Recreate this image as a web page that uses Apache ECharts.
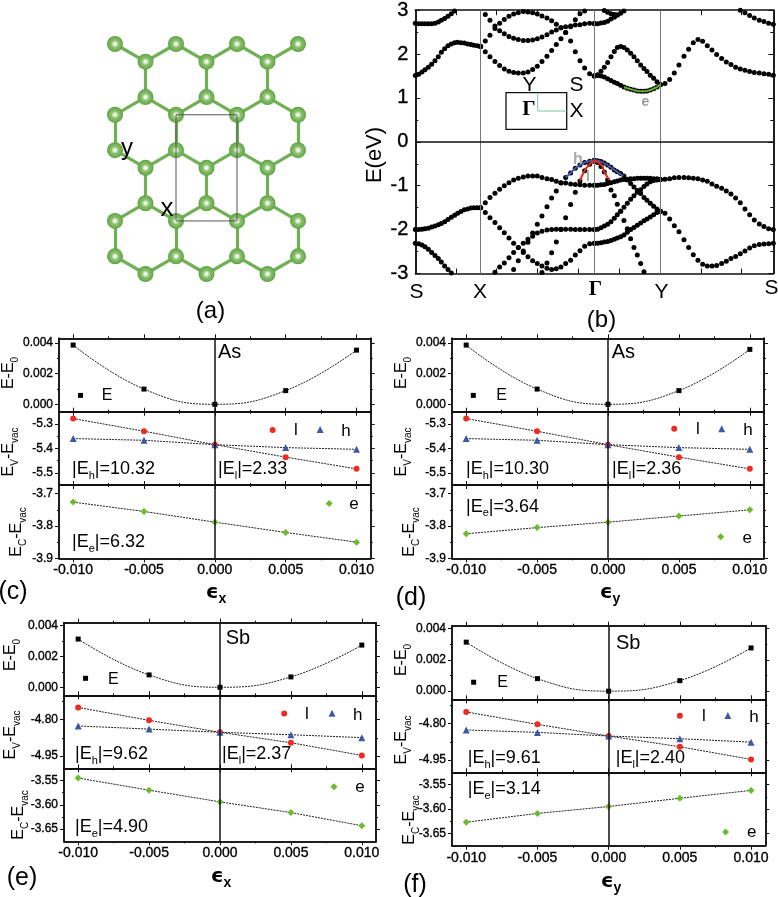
<!DOCTYPE html>
<html><head><meta charset="utf-8">
<style>html,body{margin:0;padding:0;background:#fff}#c{width:778px;height:897px}</style>
<script src="https://cdn.jsdelivr.net/npm/echarts@6/dist/echarts.min.js"></script>
</head><body><div id="c"></div>
<script>
// ---------- lattice (a): column index, row position in bond lengths
const atomRows=[0,0.5,1.5,2,3,3.5,4.5,5,6,6.5];
const cellCorners=[[2,2],[4,2],[4,5],[2,5],[2,2]];
// ---------- band structure (b): k along the path S-X-G-Y-S
const kTicks=[122,244,366,489,611,735,857,979];
const kX=196,kG=537,kY=735,kEnd=1074;
const kSX=[0,10,20,29,39,49,59,69,78,88,98,108,118,127,137,147,157,167,176,186,196];
const kXG=[196,210,224,239,253,267,281,295,309,324,338,352,366,380,395,409,423,437,451,466,480,494,508,523,537];
const kGY=[537,547,557,567,577,587,597,606,616,626,636,646,656,666,676,686,695,705,715,725,735];
const kYS=[735,749,763,777,791,806,820,834,848,862,876,890,904,919,933,947,961,975,989,1003,1017,1032,1046,1060,1074];
const n=null;
const sx1=[2.70,2.69,2.69,2.69,2.69,2.69,2.70,2.73,2.77,2.81,2.86,2.92,2.98];
const sx2=[1.51,1.54,1.59,1.64,1.70,1.77,1.85,1.94,2.04,2.12,2.19,2.23,2.26,2.27,2.26,2.25,2.23,2.22,2.20,2.19,2.17];
const sx3=[-2.00,-2.00,-1.99,-1.98,-1.97,-1.94,-1.92,-1.89,-1.86,-1.82,-1.77,-1.72,-1.67,-1.63,-1.59,-1.55,-1.53,-1.51,-1.50,-1.50,-1.50];
const sx4=[-2.31,-2.32,-2.35,-2.39,-2.45,-2.52,-2.59,-2.66,-2.74,-2.83,-2.91,-2.99];
const xg1=[2.17,2.30,2.43,2.58,2.70,2.79,2.86,2.91,2.94,2.97,2.96,2.94,2.91,2.87,2.82,2.76,2.68,2.60,2.49,2.30,2.05,1.85,1.68,1.55,1.50];
const xg2=[2.17,2.05,1.94,1.83,1.74,1.66,1.61,1.58,1.57,1.57,1.59,1.65,1.72,1.83,1.95,2.08,2.22,2.35,2.49,2.62,2.78,2.92,2.98];
const xg3=[n,2.90,2.77,2.64,2.53,2.46,2.40,2.36,2.33,2.31,2.31,2.32,2.35,2.39,2.44,2.50,2.55,2.60,2.62,2.64,2.66,2.67,2.69,2.70,2.70];
const xg4=[-1.50,-1.39,-1.27,-1.17,-1.08,-1.00,-0.93,-0.87,-0.83,-0.80,-0.78,-0.78,-0.78,-0.81,-0.84,-0.86,-0.90,-0.93,-0.94,-0.96,-0.97,-0.98,-0.99,-0.99,-0.99];
const xg5=[-1.50,-1.61,-1.73,-1.84,-1.96,-2.07,-2.19,-2.31,-2.41,-2.52,-2.62,-2.71,-2.77,-2.83,-2.88,-2.91,-2.89,-2.85,-2.77,-2.70,-2.58,-2.48,-2.38,-2.32,-2.31];
const xg6=[n,n,n,-2.97,-2.85,-2.76,-2.64,-2.52,-2.41,-2.31,-2.22,-2.15,-2.08,-2.04,-2.01,-2.00,-1.99,-1.99,-1.99,-1.99,-2.00,-2.00,-2.00,-2.00,-2.00];
const xg7=[n,n,n,n,n,n,n,-2.91,-2.71,-2.49,-2.29,-2.08,-1.88,-1.69,-1.48,-1.28,-1.12,-0.94,-0.81,-0.71,-0.60,-0.53,-0.47,-0.44,-0.42];
const xg8=[n,n,n,n,n,n,n,n,n,n,n,n,n,-2.98,-2.76,-2.53,-2.28,-2.00,-1.73,-1.43,-1.15,-0.89,-0.66,-0.51,-0.44];
const gy1=[1.50,1.53,1.61,1.70,1.81,1.94,2.06,2.15,2.17,2.15,2.09,2.02,1.94,1.85,1.75,1.67,1.60,1.52,1.45,1.37,1.30];
const gy2=[1.50,1.51,1.50,1.48,1.44,1.40,1.36,1.33,1.29,1.25,1.22,1.20,1.18,1.16,1.15,1.15,1.16,1.18,1.21,1.25,1.30];
const gy3=[2.69,2.69,2.71,2.72,2.75,2.80,2.84,2.89,2.93,2.98];
const gy4=[n,n,3.02,2.99,2.95,2.92,2.90,2.89];
const gy5=[-0.99,-0.99,-0.98,-0.97,-0.95,-0.93,-0.91,-0.89,-0.87,-0.86,-0.85,-0.84,-0.84,-0.83,-0.83,-0.83,-0.83,-0.83,-0.84,-0.84,-0.86];
const gy6=[-2.00,-1.99,-1.96,-1.92,-1.88,-1.82,-1.74,-1.66,-1.58,-1.49,-1.40,-1.31,-1.23,-1.15,-1.09,-1.02,-0.96,-0.91,-0.88,-0.87,-0.86];
const gy7=[-2.31,-2.31,-2.30,-2.28,-2.27,-2.25,-2.22,-2.19,-2.16,-2.12,-2.06,-2.00,-1.95,-1.90,-1.85,-1.80,-1.76,-1.71,-1.66,-1.61,-1.58];
const gy8=[-0.42,-0.43,-0.45,-0.48,-0.53,-0.58,-0.64,-0.68,-0.72,-0.78,-0.87,-0.95,-1.03,-1.11,-1.18,-1.27,-1.33,-1.40,-1.47,-1.53,-1.58];
const gy9=[-0.44,-0.47,-0.56,-0.69,-0.87,-1.10,-1.23,-1.42,-1.58,-1.79,-1.98,-2.21,-2.41,-2.58,-2.77,-2.96];
const ys1=[1.30,1.33,1.42,1.57,1.75,1.95,2.11,2.26,2.33,2.29,2.19,2.09,1.99,1.90,1.82,1.76,1.70,1.66,1.63,1.60,1.58,1.57,1.55,1.54,1.52];
const ys2=[n,n,n,n,n,n,n,n,n,n,n,n,n,n,n,n,n,3.00,2.94,2.88,2.82,2.77,2.74,2.70,2.68];
const ys3=[-0.86,-0.85,-0.84,-0.82,-0.81,-0.81,-0.82,-0.83,-0.84,-0.87,-0.90,-0.96,-1.01,-1.06,-1.12,-1.19,-1.28,-1.39,-1.53,-1.66,-1.78,-1.87,-1.93,-1.98,-2.00];
const ys4=[-1.58,-1.63,-1.76,-1.91,-2.05,-2.23,-2.41,-2.57,-2.70,-2.79,-2.83,-2.83,-2.82,-2.77,-2.72,-2.66,-2.61,-2.55,-2.49,-2.42,-2.37,-2.34,-2.33,-2.32,-2.31];
const holeBlue=[[451,-0.81],[466,-0.71],[480,-0.60],[494,-0.53],[508,-0.47],[523,-0.44],[537,-0.42],[557,-0.45],[577,-0.53],[597,-0.64],[624,-0.78]];
const holeRed=[[494,-0.89],[508,-0.66],[523,-0.51],[537,-0.44],[557,-0.51],[567,-0.68],[582,-0.87]];
const elecGreen=[[626,1.25],[636,1.22],[646,1.20],[656,1.18],[666,1.16],[676,1.15],[686,1.15],[695,1.16],[705,1.18],[715,1.21],[725,1.25],[735,1.30]];
// ---------- strain panels (c-f)
const strain=[-0.01,-0.005,0,0.005,0.01];
const xMajor=[-0.01,-0.005,0,0.005,0.01], xMinor=[-0.0075,-0.0025,0.0025,0.0075];
const cE=[0.00385,0.00099,0,0.00089,0.00352], cL=[-5.278,-5.33,-5.385,-5.436,-5.484], cH=[-5.36,-5.367,-5.385,-5.397,-5.404], cEl=[-3.726,-3.755,-3.788,-3.82,-3.85];
const dE=[0.00385,0.00099,0,0.00089,0.00357], dL=[-5.278,-5.33,-5.385,-5.436,-5.484], dH=[-5.36,-5.367,-5.385,-5.397,-5.404], dEl=[-3.824,-3.805,-3.788,-3.769,-3.75];
const eE=[0.00312,0.0008,0,0.00067,0.00273], eL=[-4.75,-4.803,-4.852,-4.895,-4.947], eH=[-4.826,-4.839,-4.852,-4.862,-4.874], eEl=[-3.545,-3.57,-3.594,-3.616,-3.643];
const fE=[0.00313,0.0008,0,0.00067,0.00276], fL=[-4.752,-4.803,-4.851,-4.895,-4.947], fH=[-4.826,-4.836,-4.851,-4.862,-4.876], fEl=[-3.627,-3.609,-3.595,-3.578,-3.562];

const FONT='"Liberation Sans",Arial,sans-serif';
const grid=[],xAxis=[],yAxis=[],series=[],graphic=[];
const BK='#111';

function axis(g,dim,pos,min,max,vals,len,label,lw,inside,fmt,fs,margin){
  const a={type:'value',gridIndex:g,position:pos,min,max,splitLine:{show:false},
    axisLine:{show:true,onZero:false,lineStyle:{color:BK,width:lw}},
    axisTick:{show:true,inside:!!inside,length:len,customValues:vals,lineStyle:{color:BK,width:1}},
    axisLabel:{show:!!label,color:'#000',fontFamily:FONT,fontSize:fs||12,margin:margin||6,
      textBorderColor:'#000',textBorderWidth:0.35,
      hideOverlap:false,showMinLabel:true,showMaxLabel:true,customValues:vals,formatter:fmt}};
  const arr=dim==='x'?xAxis:yAxis; arr.push(a); return arr.length-1;
}
function gridAxes(left,top,w,h,x,y,opt){
  const g=grid.length; opt=opt||{};
  const lw=opt.lw||1.5,ml=opt.ml||4,nl=opt.nl||2,ins=opt.inside;
  grid.push({left,top,width:w,height:h,containLabel:false,show:false});
  const xi=axis(g,'x','bottom',x.min,x.max,x.major,ml,x.labels,lw,ins,x.fmt,x.fs,x.margin);
  if(x.minor)axis(g,'x','bottom',x.min,x.max,x.minor,nl,false,lw,ins);
  axis(g,'x','top',x.min,x.max,x.major,ml,false,lw,ins);
  if(x.minor)axis(g,'x','top',x.min,x.max,x.minor,nl,false,lw,ins);
  const yi=axis(g,'y','left',y.min,y.max,y.major,ml,true,lw,ins,y.fmt,y.fs,y.margin);
  if(y.minor)axis(g,'y','left',y.min,y.max,y.minor,nl,false,lw,ins);
  axis(g,'y','right',y.min,y.max,y.major,ml,false,lw,ins);
  if(y.minor)axis(g,'y','right',y.min,y.max,y.minor,nl,false,lw,ins);
  return {xi,yi};
}
function txt(x,y,text,o){
  o=o||{};
  const st={text,fontFamily:o.font||FONT,fontSize:o.size||16,fill:o.color||'#000',fontWeight:o.weight||'normal',
    align:o.align||'center',verticalAlign:o.va||'middle'};
  if(o.rich)st.rich=o.rich;
  graphic.push({type:'text',x,y,rotation:o.rot||0,z:50,silent:true,style:st});
}
function richSub(size,sub,lh){
  return {n:{fontFamily:FONT,fontSize:size,lineHeight:lh,verticalAlign:'middle',fill:'#000',color:'#000'},
          s:{fontFamily:FONT,fontSize:sub,lineHeight:lh,verticalAlign:'bottom',fill:'#000',color:'#000'}};
}

// ---------- (a) lattice
(function(){
  const g=grid.length;
  grid.push({left:115,top:44,width:183,height:230,show:false});
  xAxis.push({type:'value',gridIndex:g,min:0,max:6,show:false});
  yAxis.push({type:'value',gridIndex:g,min:0,max:6.5,inverse:true,show:false});
  const nodes=[],idx={};
  atomRows.forEach((r,ri)=>{
    const odd=(ri===1||ri===2||ri===5||ri===6||ri===9);
    for(let c=odd?1:0;c<=6;c+=2){idx[c+'_'+ri]=nodes.length;nodes.push({value:[c,r]});}
  });
  const links=[];
  for(let ri=0;ri<atomRows.length-1;ri++){
    const zig=(ri%2===0);
    for(let c=0;c<=6;c++){
      const a=idx[c+'_'+ri]; if(a===undefined)continue;
      if(zig){[c-1,c+1].forEach(cc=>{const b=idx[cc+'_'+(ri+1)];if(b!==undefined)links.push({source:a,target:b});});}
      else{const b=idx[c+'_'+(ri+1)];if(b!==undefined)links.push({source:a,target:b});}
    }
  }
  series.push({type:'graph',coordinateSystem:'cartesian2d',xAxisIndex:xAxis.length-1,yAxisIndex:yAxis.length-1,
    layout:'none',silent:true,symbol:'circle',symbolSize:16,data:nodes,links,label:{show:false},
    itemStyle:{color:{type:'radial',x:0.5,y:0.5,r:0.5,colorStops:[{offset:0,color:'#ffffff'},{offset:0.15,color:'#eef6e8'},{offset:0.45,color:'#8cc070'},{offset:0.8,color:'#6fb052'},{offset:1,color:'#5f9e45'}]}},
    lineStyle:{color:'#70b054',width:3.2,opacity:1,curveness:0},z:2});
  series.push({type:'line',xAxisIndex:xAxis.length-1,yAxisIndex:yAxis.length-1,data:cellCorners,symbol:'none',clip:false,silent:true,
    lineStyle:{color:'#555',width:1},z:5});
  txt(127,148,'y',{size:24});
  txt(167,209,'x',{size:26});
  txt(210.5,311,'(a)',{size:24});
})();

// ---------- (b) band structure
(function(){
  const {xi,yi}=gridAxes(415.3,7,358,266.5,
    {min:0,max:kEnd,major:kTicks},
    {min:-3,max:3,major:[-3,-2,-1,0,1,2,3],minor:[-2.5,-1.5,-0.5,0.5,1.5,2.5],fmt:v=>String(Math.round(v)),fs:20,margin:7},
    {inside:true,ml:5,nl:3,lw:1.5});
  const sets=[[kSX,[sx1,sx2,sx3,sx4]],[kXG,[xg1,xg2,xg3,xg4,xg5,xg6,xg7,xg8]],[kGY,[gy1,gy2,gy3,gy4,gy5,gy6,gy7,gy8,gy9]],[kYS,[ys1,ys2,ys3,ys4]]];
  const pts=[];
  sets.forEach(([k,bands])=>bands.forEach(b=>b.forEach((e,i)=>{if(e!==null)pts.push([k[i],e]);})));
  series.push({type:'scatter',xAxisIndex:xi,yAxisIndex:yi,data:pts,symbol:'circle',symbolSize:5,silent:true,itemStyle:{color:'#000',opacity:1},z:4,
    markLine:{silent:true,symbol:'none',label:{show:false},animation:false,data:[{xAxis:kX},{xAxis:kG},{xAxis:kY}],lineStyle:{color:'#777',width:1,type:'solid'}}});
  series.push({type:'line',xAxisIndex:xi,yAxisIndex:yi,data:[],silent:true,z:3,
    markLine:{silent:true,symbol:'none',label:{show:false},animation:false,data:[{yAxis:0}],lineStyle:{color:'#111',width:1.5,type:'solid'}}});
  const over=(d,c)=>series.push({type:'line',xAxisIndex:xi,yAxisIndex:yi,data:d,smooth:true,symbol:'none',silent:true,lineStyle:{color:c,width:2},z:6});
  over(holeBlue,'#3f5aa8'); over(holeRed,'#e8281c'); over(elecGreen,'#63ad2c');
  // text
  txt(375,155,'E(eV)',{size:22,rot:Math.PI/2});
  const sy=292;
  txt(416.5,sy,'S',{size:21}); txt(480,sy,'X',{size:21});
  txt(595.5,290,'Γ',{size:21,font:'"Liberation Serif",serif',weight:'bold'});
  txt(661.5,sy,'Y',{size:21}); txt(771.5,288,'S',{size:21});
  txt(601.5,320,'(b)',{size:24});
  // inset
  graphic.push({type:'rect',z:20,silent:true,shape:{x:506,y:92.7,width:60.7,height:36.6},style:{fill:'rgba(255,255,255,0)',stroke:'#111',lineWidth:1.3}});
  graphic.push({type:'polyline',z:21,silent:true,shape:{points:[[537.7,92.7],[537.7,111],[566.7,111]]},style:{fill:'none',stroke:'#7cc8a0',lineWidth:1}});
  txt(529.5,85.5,'Y',{size:21}); txt(576.5,85,'S',{size:21}); txt(576.5,111,'X',{size:21});
  txt(529,110,'Γ',{size:21,font:'"Liberation Serif",serif',weight:'bold'});
  txt(645.5,102,'e',{size:14,color:'#999',weight:'bold'});
  txt(578,160,'h',{size:16,color:'#aaa',weight:'bold'});
  txt(588,177,'l',{size:14,color:'#aaa',weight:'bold'});
})();

// ---------- (c-f) strain panels
function panel(p){
  const w=p.right-p.left;
  const X=(labels)=>({min:-0.011,max:0.011,major:xMajor,minor:xMinor,labels,fmt:v=>v.toFixed(3),fs:14,margin:5});
  const topG=gridAxes(p.left,p.top,w,p.s1-p.top,X(false),{min:p.y1[0],max:p.y1[1],major:[0,0.002,0.004],minor:[0.001,0.003],fmt:v=>v.toFixed(3)});
  const midG=gridAxes(p.left,p.s1,w,p.s2-p.s1,X(false),{min:p.y2[0],max:p.y2[1],major:p.m2,minor:p.n2,fmt:v=>v.toFixed(p.dec)});
  const botG=gridAxes(p.left,p.s2,w,p.bottom-p.s2,X(true),{min:p.y3[0],max:p.y3[1],major:p.m3,minor:p.n3,fmt:v=>v.toFixed(p.dec)});
  const zero={silent:true,symbol:'none',label:{show:false},animation:false,data:[{xAxis:0}],lineStyle:{color:'#111',width:1.5,type:'solid'}};
  const ln=(g,vals,sym,size,color,smooth)=>series.push({type:'line',xAxisIndex:g.xi,yAxisIndex:g.yi,silent:true,
    data:strain.map((s,i)=>[s,vals[i]]),smooth:smooth?0.45:false,symbol:sym,symbolSize:size,showAllSymbol:true,
    itemStyle:{color},lineStyle:{color:'#222',width:1,type:[2,1]},z:4});
  const key=(g,pt,sym,size,color)=>series.push({type:'scatter',xAxisIndex:g.xi,yAxisIndex:g.yi,silent:true,data:[pt],symbol:sym,symbolSize:size,itemStyle:{color,opacity:1},z:4});
  series.push({type:'line',xAxisIndex:topG.xi,yAxisIndex:topG.yi,data:[],markLine:zero,silent:true});
  series.push({type:'line',xAxisIndex:midG.xi,yAxisIndex:midG.yi,data:[],markLine:zero,silent:true});
  series.push({type:'line',xAxisIndex:botG.xi,yAxisIndex:botG.yi,data:[],markLine:zero,silent:true});
  const RED='#ee2b20',BLUE='#3f58a6',GRN='#6bbb2d',SQ='#000';
  ln(topG,p.E,'rect',5,SQ,true); key(topG,p.kE,'rect',5,SQ);
  ln(midG,p.L,'circle',6,RED); ln(midG,p.H,'triangle',7,BLUE);
  key(midG,p.kL,'circle',6,RED); key(midG,p.kH,'triangle',7,BLUE);
  ln(botG,p.El,'diamond',7,GRN); key(botG,p.kEl,'diamond',7,GRN);
  const t=p.t;
  txt(t.name[0],t.name[1],p.name,{size:20,align:'left'});
  txt(t.E[0],t.E[1],'E',{size:16}); txt(t.l[0],t.l[1],'l',{size:17}); txt(t.h[0],t.h[1],'h',{size:17}); txt(t.e[0],t.e[1],'e',{size:17});
  const eq=(pos,sub,val)=>txt(pos[0],pos[1],`{n||E}{s|${sub}}{n||=${val}}`,{size:18,align:'left',rich:richSub(18,11,24)});
  eq(t.Eh,'h',p.vals[0]); eq(t.El,'l',p.vals[1]); eq(t.Ee,'e',p.vals[2]);
  const R=Math.PI/2;
  txt(t.a1[0],t.a1[1],'{n|E-E}{s|0}',{rot:R,rich:richSub(16,10,22)});
  txt(t.a2[0],t.a2[1],'{n|E}{s|V}{n|-E}{s|vac}',{rot:R,rich:richSub(16,10,22)});
  txt(t.a3[0],t.a3[1],'{n|E}{s|C}{n|-E}{s|vac}',{rot:R,rich:richSub(16,10,22)});
  txt(t.xl[0],t.xl[1],`{g|ϵ}{s|${p.xl}}`,{rich:{g:{fontFamily:'"DejaVu Sans"',fontWeight:'bold',fontSize:20,lineHeight:26,verticalAlign:'middle',fill:'#000'},s:{fontFamily:FONT,fontWeight:'bold',fontSize:14,lineHeight:26,verticalAlign:'bottom',fill:'#000'}}});
  txt(t.tag[0],t.tag[1],p.tag,{size:25});
}
const asY={y1:[-0.00048,0.00429],y2:[-5.55,-5.25],y3:[-3.9,-3.673],m2:[-5.5,-5.4,-5.3],n2:[-5.45,-5.35],m3:[-3.9,-3.8,-3.7],n3:[-3.85,-3.75],dec:1};
const sbY={y1:[-0.00052,0.00418],y2:[-5.0,-4.7],y3:[-3.675,-3.525],m2:[-4.95,-4.8],n2:[-4.875,-4.725],m3:[-3.65,-3.6,-3.55],n3:[-3.625,-3.575],dec:2};
panel(Object.assign({},asY,{left:59,right:370.7,top:338.3,s1:411.7,s2:485,bottom:558.3,name:'As',xl:'x',tag:'(c)',E:cE,L:cL,H:cH,El:cEl,vals:['10.32','2.33','6.32'],
  kE:[-0.00948,0.00058],kL:[0.00408,-5.325],kH:[0.00743,-5.323],kEl:[0.00807,-3.73],
  t:{name:[218,352.7],E:[107,395.7],l:[296,430],h:[346,431],e:[354,504],Eh:[72,469],El:[218,469],Ee:[72,542],a1:[9,373],a2:[9,452],a3:[17,532],xl:[216,593],tag:[13,592]}}));
panel(Object.assign({},asY,{left:452,right:764,top:338.3,s1:411.7,s2:485,bottom:558.3,name:'As',xl:'y',tag:'(d)',E:dE,L:dL,H:dH,El:dEl,vals:['10.30','2.36','3.64'],
  kE:[-0.0095,0.00058],kL:[0.00467,-5.32],kH:[0.00802,-5.32],kEl:[0.00795,-3.833],
  t:{name:[611.7,352],E:[501.7,396],l:[698,429],h:[748,430],e:[747.3,538],Eh:[466,469],El:[612,469],Ee:[466,506.7],a1:[402,373],a2:[402,452],a3:[410,532],xl:[610,593],tag:[411,598]}}));
panel(Object.assign({},sbY,{left:64,right:376,top:622.7,s1:695.3,s2:768.3,bottom:841.3,name:'Sb',xl:'x',tag:'(e)',E:eE,L:eL,H:eH,El:eEl,vals:['9.62','2.37','4.90'],
  kE:[-0.00948,0.00058],kL:[0.00453,-4.775],kH:[0.0079,-4.774],kEl:[0.00804,-3.563],
  t:{name:[225.7,638.3],E:[113.3,679.3],l:[307,714],h:[357.7,715],e:[360,787.7],Eh:[75,754],El:[222,754],Ee:[75,827.3],a1:[11,655],a2:[11,735],a3:[19,815],xl:[221,877],tag:[22,878]}}));
panel(Object.assign({},sbY,{left:452,right:765.3,top:625.7,s1:699.3,s2:772.3,bottom:845.7,name:'Sb',xl:'y',tag:'(f)',E:fE,L:fL,H:fH,El:fEl,vals:['9.61','2.40','3.14'],
  kE:[-0.00948,0.00057],kL:[0.005,-4.768],kH:[0.00837,-4.767],kEl:[0.00821,-3.647],
  t:{name:[616,643.3],E:[502.7,682.7],l:[704,716.7],h:[754,717],e:[751.7,832.7],Eh:[467.7,758.3],El:[615.7,758.3],Ee:[467.7,789.3],a1:[402,660],a2:[402,740],a3:[410,820],xl:[611,882],tag:[415,885]}}));

const chart=echarts.init(document.getElementById('c'),null,{renderer:'canvas',width:778,height:897});
chart.setOption({animation:false,backgroundColor:'#fff',grid,xAxis,yAxis,series,graphic:{elements:graphic}});
</script></body></html>
